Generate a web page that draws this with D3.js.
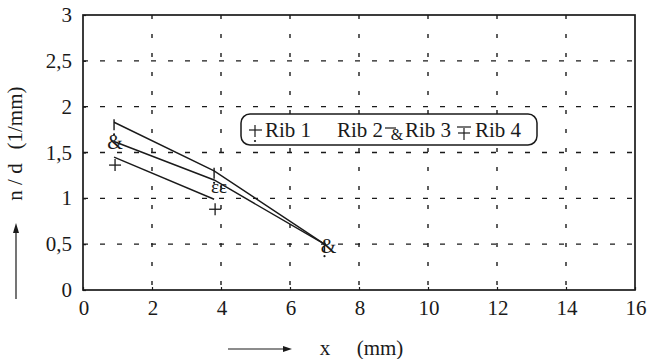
<!DOCTYPE html>
<html><head><meta charset="utf-8">
<script src="https://cdn.jsdelivr.net/npm/d3@7"></script>
<style>body{margin:0;background:#fff}svg{display:block}</style>
</head><body><svg id="c" width="651" height="359" font-family="Liberation Serif"></svg>
<script>
// ---- data ----
const xTicks = [0,2,4,6,8,10,12,14,16];
const yTicks = [0,0.5,1,1.5,2,2.5,3];
const yTickLabels = ["0","0,5","1","1,5","2","2,5","3"];
const ribX = [0.9, 3.8, 7.0];
const rib1 = [1.83, 1.30, 0.50];
const rib2 = [];            // no visible line for Rib 2
const rib3 = [1.62, 1.20, 0.50];
const rib4 = [1.45, 0.99];
const rib3Glyphs = ["&", "εε", "&"];
const legendLabels = ["Rib 1","Rib 2","Rib 3","Rib 4"];

const FONT = "Liberation Serif";
const svg = d3.select("#c");
const M = {l:83, r:635, t:15, b:290};
const x = d3.scaleLinear().domain([0,16]).range([M.l, M.r]);
const y = d3.scaleLinear().domain([0,3]).range([M.b, M.t]);
const ink = "#1a1a1a";
const T = (sel)=>sel.attr("font-family",FONT).attr("fill",ink);

// grid
svg.append("g").selectAll("line").data(yTicks.slice(1,-1)).join("line")
  .attr("x1",M.l).attr("x2",M.r).attr("y1",d=>y(d)).attr("y2",d=>y(d))
  .attr("stroke",ink).attr("stroke-width",1.4).attr("stroke-dasharray","5,12");
svg.append("g").selectAll("line").data(xTicks.slice(1,-1)).join("line")
  .attr("y1",M.t).attr("y2",M.b).attr("x1",d=>x(d)).attr("x2",d=>x(d))
  .attr("stroke",ink).attr("stroke-width",1.4).attr("stroke-dasharray","4,15");

// axes (inward ticks) via d3 axes
const xa = svg.append("g").attr("transform",`translate(0,${M.b})`)
  .call(d3.axisTop(x).tickValues(xTicks).tickSize(3).tickFormat(""));
const ya = svg.append("g").attr("transform",`translate(${M.l},0)`)
  .call(d3.axisRight(y).tickValues(yTicks).tickSize(3).tickFormat(""));
[xa,ya].forEach(g=>{g.select(".domain").remove();g.selectAll("line").attr("stroke",ink).attr("stroke-width",1.2);});
svg.append("rect").attr("x",M.l).attr("y",M.t).attr("width",M.r-M.l).attr("height",M.b-M.t)
  .attr("fill","none").attr("stroke",ink).attr("stroke-width",1.7);

// tick labels
T(svg.append("g").selectAll("text").data(xTicks).join("text")
  .attr("x",d=>x(d)+1).attr("y",315).attr("text-anchor","middle").attr("font-size",21).text(d=>d));
T(svg.append("g").selectAll("text").data(yTicks).join("text")
  .attr("x",72).attr("y",d=>y(d)+7).attr("text-anchor","end").attr("font-size",21).text((d,i)=>yTickLabels[i]));

// axis titles
T(svg.append("text").attr("transform","translate(22,118) rotate(-90)").attr("text-anchor","middle").attr("font-size",21).text("(1/mm)"));
T(svg.append("text").attr("transform","translate(22,182) rotate(-90)").attr("text-anchor","middle").attr("font-size",21).text("n / d"));
svg.append("line").attr("x1",16).attr("x2",16).attr("y1",299).attr("y2",230).attr("stroke",ink).attr("stroke-width",1.2);
svg.append("path").attr("d","M16,223 L13,233 L19,233 Z").attr("fill",ink);
svg.append("line").attr("x1",228).attr("x2",286).attr("y1",349).attr("y2",349).attr("stroke",ink).attr("stroke-width",1.2);
svg.append("path").attr("d","M292,349 L283,346 L283,352 Z").attr("fill",ink);
T(svg.append("text").attr("x",325).attr("y",355).attr("text-anchor","middle").attr("font-size",21).text("x"));
T(svg.append("text").attr("x",380).attr("y",355).attr("text-anchor","middle").attr("font-size",21).text("(mm)"));

// lines
const line = d3.line().x(d=>x(d[0])).y(d=>y(d[1]));
[rib1,rib2,rib3,rib4].forEach(s=>{
  if(!s.length) return;
  svg.append("path").datum(s.map((v,i)=>[ribX[i],v])).attr("d",line)
    .attr("fill","none").attr("stroke",ink).attr("stroke-width",1.4);
});

// markers Rib 1: vertical tick with dot
const g1 = svg.append("g").selectAll("g").data(rib1.map((v,i)=>[ribX[i],v])).join("g")
  .attr("transform",d=>`translate(${x(d[0])},${y(d[1])})`);
g1.append("line").attr("x1",0).attr("x2",0).attr("y1",-3).attr("y2",8).attr("stroke",ink).attr("stroke-width",1.4);
g1.append("circle").attr("cx",0).attr("cy",12).attr("r",1.1).attr("fill",ink);
// markers Rib 3
T(svg.append("g").selectAll("text").data(rib3.map((v,i)=>[ribX[i],v,rib3Glyphs[i]])).join("text")
  .attr("x",(d,i)=>x(d[0])+(i===0?1:i===1?5:4)).attr("y",(d,i)=>y(d[1])+(i===0?7:i===1?13:9))
  .attr("text-anchor","middle").attr("font-size",d=>d[2]==="&"?20:19).text(d=>d[2]));
// markers Rib 4: plus
const g4 = svg.append("g").selectAll("g").data(rib4.map((v,i)=>[ribX[i],v])).join("g")
  .attr("transform",(d,i)=>`translate(${x(d[0])+1},${y(d[1])+8+i*2})`);
g4.append("line").attr("x1",-6).attr("x2",6).attr("y1",0).attr("y2",0).attr("stroke",ink).attr("stroke-width",1.3);
g4.append("line").attr("x1",0).attr("x2",0).attr("y1",-6).attr("y2",6).attr("stroke",ink).attr("stroke-width",1.3);

// legend
svg.append("rect").attr("x",241).attr("y",114).attr("width",296).attr("height",31).attr("rx",9)
  .attr("fill","#fff").attr("stroke",ink).attr("stroke-width",1.5);
const lx = [265, 337, 405, 475];
T(svg.append("g").selectAll("text").data(legendLabels).join("text")
  .attr("x",(d,i)=>lx[i]).attr("y",137).attr("font-size",21).text(d=>d));
// legend glyphs
svg.append("line").attr("x1",249).attr("x2",262).attr("y1",130).attr("y2",130).attr("stroke",ink).attr("stroke-width",1.2);
svg.append("line").attr("x1",255).attr("x2",255).attr("y1",125).attr("y2",137).attr("stroke",ink).attr("stroke-width",1.2);
svg.append("circle").attr("cx",255).attr("cy",141).attr("r",1.1).attr("fill",ink);
svg.append("line").attr("x1",385).attr("x2",396).attr("y1",128).attr("y2",128).attr("stroke",ink).attr("stroke-width",1.2);
T(svg.append("text").attr("x",397).attr("y",140).attr("text-anchor","middle").attr("font-size",16).text("&"));
svg.append("line").attr("x1",457).attr("x2",471).attr("y1",127).attr("y2",127).attr("stroke",ink).attr("stroke-width",1.2);
svg.append("line").attr("x1",458).attr("x2",470).attr("y1",133).attr("y2",133).attr("stroke",ink).attr("stroke-width",1.2);
svg.append("line").attr("x1",464).attr("x2",464).attr("y1",128).attr("y2",140).attr("stroke",ink).attr("stroke-width",1.2);
</script></body></html>
